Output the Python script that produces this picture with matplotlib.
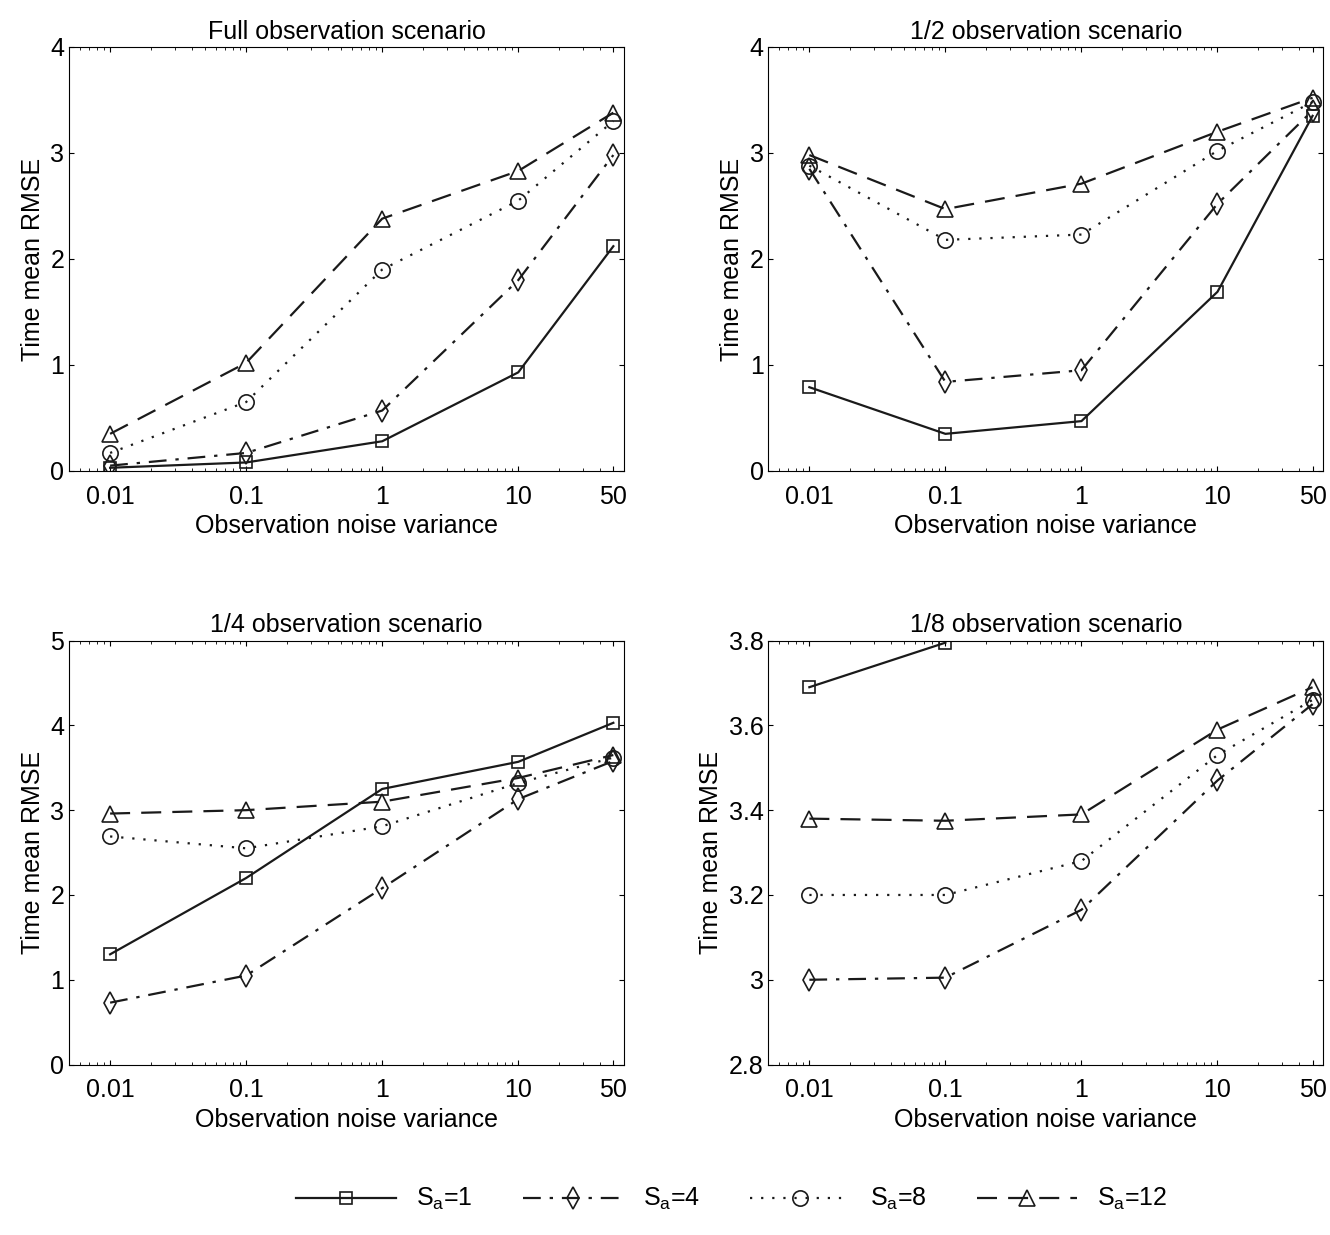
import matplotlib.pyplot as plt
import numpy as np
from matplotlib.ticker import FixedLocator, FixedFormatter

x = [0.01, 0.1, 1, 10, 50]
xlabels = ['0.01', '0.1', '1', '10', '50']

titles = ['Full observation scenario', '1/2 observation scenario',
          '1/4 observation scenario', '1/8 observation scenario']

full = [[0.03, 0.08, 0.28, 0.93, 2.12],
        [0.05, 0.17, 0.57, 1.80, 2.98],
        [0.17, 0.65, 1.90, 2.55, 3.30],
        [0.35, 1.02, 2.38, 2.83, 3.38]]
half = [[0.79, 0.35, 0.47, 1.69, 3.35],
        [2.85, 0.84, 0.95, 2.52, 3.40],
        [2.88, 2.18, 2.23, 3.02, 3.48],
        [2.98, 2.47, 2.71, 3.20, 3.52]]
quarter = [[1.30, 2.20, 3.25, 3.57, 4.03],
           [0.73, 1.05, 2.08, 3.13, 3.58],
           [2.69, 2.55, 2.81, 3.32, 3.62],
           [2.96, 3.00, 3.10, 3.38, 3.65]]
eighth = [[3.69, 3.795, np.nan, np.nan, np.nan],
          [3.00, 3.005, 3.165, 3.47, 3.65],
          [3.20, 3.20, 3.28, 3.53, 3.66],
          [3.38, 3.375, 3.39, 3.59, 3.69]]
all_data = [full, half, quarter, eighth]
ylims = [(0, 4), (0, 4), (0, 5), (2.8, 3.8)]
yticks = [[0, 1, 2, 3, 4], [0, 1, 2, 3, 4], [0, 1, 2, 3, 4, 5],
          [2.8, 3, 3.2, 3.4, 3.6, 3.8]]

names = [r'S$_\mathrm{a}$=1', r'S$_\mathrm{a}$=4', r'S$_\mathrm{a}$=8', r'S$_\mathrm{a}$=12']
markers = ['s', 'd', 'o', '^']
styles = ['-', (0, (8, 4, 1.5, 4)), (0, (1, 4)), (0, (9, 5))]
msizes = [9, 11, 11, 12]

plt.rcParams['font.family'] = ['Liberation Sans', 'DejaVu Sans']
plt.rcParams['font.size'] = 17
plt.rcParams['mathtext.fontset'] = 'custom'
plt.rcParams['mathtext.rm'] = 'Liberation Sans'

fig, axes = plt.subplots(2, 2, figsize=(13.3, 12.35), dpi=100)
fig.subplots_adjust(left=0.052, right=0.995, top=0.962, bottom=0.138, wspace=0.26, hspace=0.40)

for k, ax in enumerate(axes.flat):
    for i in range(4):
        ax.plot(x, all_data[k][i], color='#1a1a1a', linestyle=styles[i], lw=1.6,
                marker=markers[i], ms=msizes[i], mfc='none', mew=1.2, label=names[i])
    ax.set_xscale('log')
    ax.set_xlim(0.005, 60)
    ax.xaxis.set_major_locator(FixedLocator(x))
    ax.xaxis.set_major_formatter(FixedFormatter(xlabels))
    ax.set_ylim(*ylims[k])
    ax.set_yticks(yticks[k])
    ax.set_yticklabels([('%g' % v) for v in yticks[k]])
    ax.tick_params(direction='in', which='both', top=True, right=True, labelsize=18)
    ax.tick_params(axis='x', pad=10)
    ax.set_title(titles[k], fontsize=18)
    ax.set_xlabel('Observation noise variance', fontsize=18)
    ax.set_ylabel('Time mean RMSE', fontsize=18)

handles, labels = axes[0, 0].get_legend_handles_labels()
fig.legend(handles, labels, loc='lower center', ncol=4, frameon=False,
           bbox_to_anchor=(0.55, 0.0), fontsize=18, handlelength=4, columnspacing=2)
fig.savefig('out.png', dpi=100)
